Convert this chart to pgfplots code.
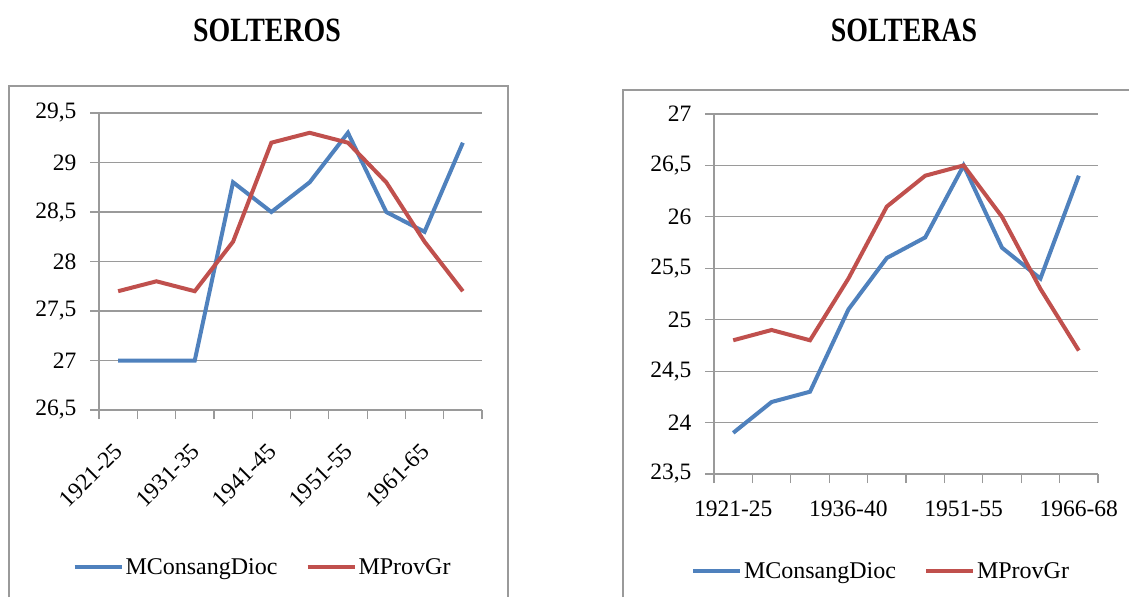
\documentclass[border=0pt]{standalone}
\usepackage{pgfplots}
\pgfplotsset{compat=1.18}
\usepackage{fontspec}
\setmainfont{Liberation Serif}
\newfontfamily\titlefont[FakeStretch=0.82]{Liberation Serif}
\definecolor{cblue}{HTML}{4F81BD}
\definecolor{cred}{HTML}{C0504D}
\definecolor{gridc}{HTML}{9A9A9A}
\pgfplotsset{
  mystyle/.style={
    scale only axis, enlargelimits=false, xmin=-0.5, xmax=9.5,
    axis x line=bottom, axis y line=left,
    axis line style={gridc, line width=1.2pt, -},
    ymajorgrids, grid style={gridc, line width=1.1pt},
    tick align=outside, major tick length=9pt,
    tick style={gridc, line width=1.2pt},
    xtick={-0.5,0.5,...,9.5}, xticklabels={},
    ticklabel style={font=\fontsize{23.5}{23.5}\selectfont, text=black},
    yticklabel style={xshift=-10pt},
    /pgf/number format/assume math mode=true,
    /pgf/number format/use comma,
    extra x tick style={major tick length=0pt, grid=none},
    legend style={draw=none, fill=none, legend columns=2,
      font=\fontsize{24}{24}\selectfont,
      nodes={inner sep=2pt},
      /tikz/every even column/.append style={column sep=26pt}},
    legend image code/.code={\draw[#1, line width=4pt] (0pt,0pt) -- (47pt,0pt);},
    every axis plot/.append style={line width=4pt, no markers},
  }
}
\begin{document}
\begin{tikzpicture}
\useasboundingbox (0,0) rectangle (1129pt,597pt);
% frames
\draw[gridc, line width=1.5pt] (9pt,0pt) -- (9pt,511pt) -- (508pt,511pt) -- (508pt,0pt);
\draw[gridc, line width=1.5pt] (623pt,0pt) -- (623pt,507pt) -- (1135pt,507pt);
% titles
\node[font={\titlefont\bfseries\fontsize{34}{34}\selectfont}] at (267pt,567pt) {SOLTEROS};
\node[font={\titlefont\bfseries\fontsize{34}{34}\selectfont}] at (904pt,567pt) {SOLTERAS};

\begin{axis}[mystyle, at={(99pt,187pt)}, anchor=south west, width=383pt, height=297pt,
  ymin=26.5, ymax=29.5, ytick={26.5,27,...,29.5},
  extra x ticks={0,2,4,6,8},
  extra x tick labels={1921-25,1931-35,1941-45,1951-55,1961-65},
  extra x tick style={xticklabel style={xshift=-5pt, yshift=-27pt, rotate=45, anchor=north east}},
  legend style={at={(0.427,-0.529)}, anchor=center}]
\addplot[cblue] coordinates {(0,27)(1,27)(2,27)(3,28.8)(4,28.5)(5,28.8)(6,29.3)(7,28.5)(8,28.3)(9,29.2)};
\addplot[cred] coordinates {(0,27.7)(1,27.8)(2,27.7)(3,28.2)(4,29.2)(5,29.3)(6,29.2)(7,28.8)(8,28.2)(9,27.7)};
\legend{MConsangDioc, MProvGr}
\end{axis}

\begin{axis}[mystyle, at={(714pt,123pt)}, anchor=south west, width=384pt, height=360pt,
  ymin=23.5, ymax=27, ytick={23.5,24,...,27},
  extra x ticks={0,3,6,9},
  extra x tick labels={1921-25,1936-40,1951-55,1966-68},
  extra x tick style={xticklabel style={yshift=-23pt}},
  legend style={at={(0.435,-0.269)}, anchor=center}]
\addplot[cblue] coordinates {(0,23.9)(1,24.2)(2,24.3)(3,25.1)(4,25.6)(5,25.8)(6,26.5)(7,25.7)(8,25.4)(9,26.4)};
\addplot[cred] coordinates {(0,24.8)(1,24.9)(2,24.8)(3,25.4)(4,26.1)(5,26.4)(6,26.5)(7,26.0)(8,25.3)(9,24.7)};
\legend{MConsangDioc, MProvGr}
\end{axis}
\end{tikzpicture}
\end{document}
